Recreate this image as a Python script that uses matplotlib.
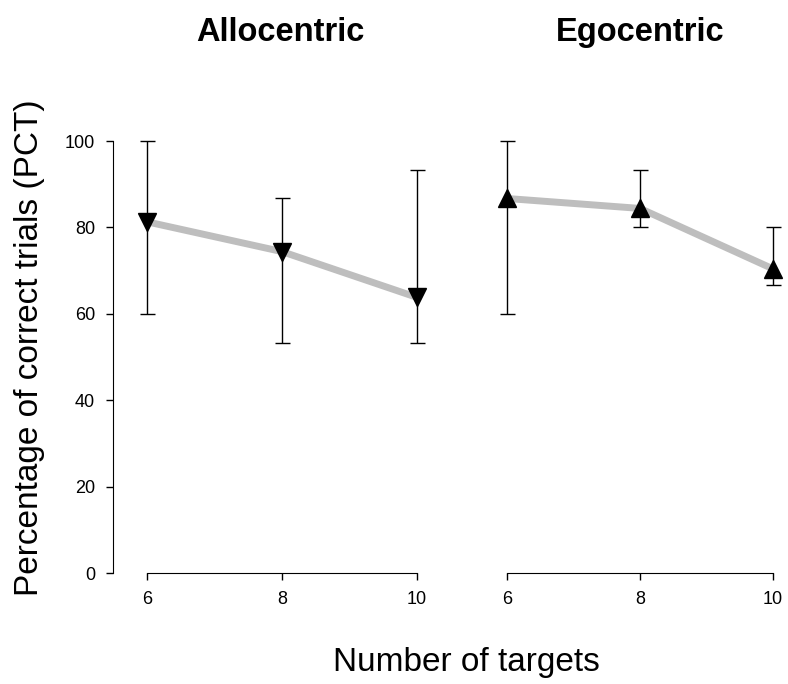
import matplotlib
matplotlib.use("Agg")
import matplotlib.pyplot as plt

plt.rcParams['font.family'] = ['Liberation Sans', 'DejaVu Sans']

# data
targets = [6, 8, 10]
allo_mean = [81.3, 74.4, 63.8]
allo_low = [60.0, 53.3, 53.3]
allo_high = [100.0, 86.7, 93.3]
ego_mean = [86.7, 84.4, 70.4]
ego_low = [60.0, 80.0, 66.7]
ego_high = [100.0, 93.3, 80.0]
titles = ['Allocentric', 'Egocentric']
yticks = [0, 20, 40, 60, 80, 100]

W, H = 788, 684
fig = plt.figure(figsize=(W / 100, H / 100), dpi=100)

def px_axes(x0, x1, y0, y1):
    return fig.add_axes([x0 / W, 1 - y1 / H, (x1 - x0) / W, (y1 - y0) / H])

ax1 = px_axes(113, 440, 100, 573)
ax2 = px_axes(476, 788, 100, 573)

panels = [
    (ax1, allo_mean, allo_low, allo_high, 'v', (6 - 34 / 67.5, 10 + 23 / 67.5)),
    (ax2, ego_mean, ego_low, ego_high, '^', (6 - 31 / 66.5, 10 + 15 / 66.5)),
]

for i, (ax, m, lo, hi, mk, xl) in enumerate(panels):
    yerr = [[a - b for a, b in zip(m, lo)], [b - a for a, b in zip(m, hi)]]
    ax.plot(targets, m, color='#bebebe', lw=5, solid_capstyle='butt', zorder=1)
    ax.errorbar(targets, m, yerr=yerr, fmt='none', ecolor='black',
                elinewidth=1, capsize=5.4, capthick=1, zorder=2)
    ax.plot(targets, m, linestyle='none', marker=mk, color='black',
            markersize=13, zorder=3)
    ax.set_xlim(*xl)
    ax.set_ylim(0, 109.5)
    ax.set_xticks(targets)
    ax.set_xticklabels([str(t) for t in targets])
    for s in ['top', 'right']:
        ax.spines[s].set_visible(False)
    ax.spines['bottom'].set_bounds(6, 10)
    ax.tick_params(direction='out', length=5, width=1, labelsize=13, pad=8)
    if i == 0:
        ax.set_yticks(yticks)
        ax.spines['left'].set_bounds(0, 100)
    else:
        ax.spines['left'].set_visible(False)
        ax.set_yticks([])
    ax.patch.set_visible(False)

# panel titles
fig.text(280.5 / W, 1 - 41 / H, titles[0], ha='center', va='baseline',
         fontsize=23.5, fontweight='bold')
fig.text(640 / W, 1 - 41 / H, titles[1], ha='center', va='baseline',
         fontsize=23.5, fontweight='bold')

fig.text(30 / W, 1 - 348 / H, 'Percentage of correct trials (PCT)', rotation=90,
         ha='center', va='center', fontsize=24)
fig.text(466 / W, 1 - 662 / H, 'Number of targets', ha='center', va='center',
         fontsize=24)

fig.savefig('out.png', dpi=100)
